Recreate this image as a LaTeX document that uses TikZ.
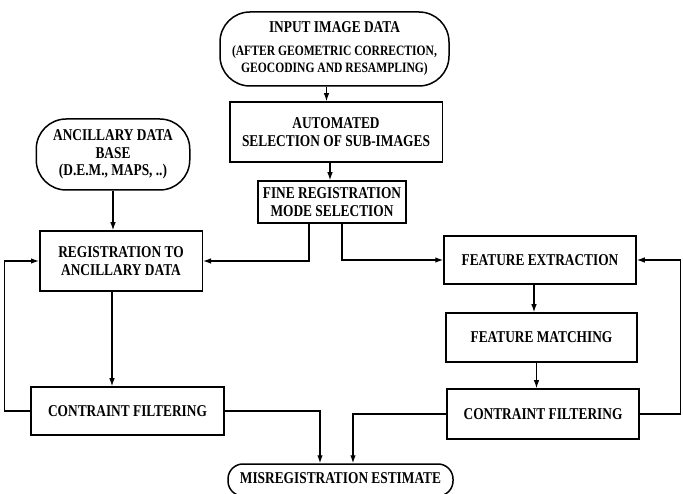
\documentclass[tikz,border=0pt]{standalone}
\usepackage{fontspec}
\setmainfont{Liberation Serif}[FakeStretch=0.81]
\usetikzlibrary{arrows.meta,calc}
\begin{document}
\begin{tikzpicture}[x=1pt,y=-1pt,
  every node/.style={font=\fontsize{16.5}{17.5}\selectfont\bfseries, align=center, inner sep=0pt},
  box/.style={draw, line width=1.5pt, rectangle},
  rbox/.style={draw, line width=1.5pt, rectangle, rounded corners=30pt},
  arr/.style={line width=1.2pt, -{Latex[length=8pt,width=5.5pt]}}]
\useasboundingbox (0,0) rectangle (683,494);
\fill[white] (0,0) rectangle (683,494);

\node[rbox, minimum width=229pt, minimum height=74pt] (input) at (334.5,49)
  {INPUT IMAGE DATA\\[5pt]\fontsize{14.3}{15}\selectfont (AFTER GEOMETRIC CORRECTION,\\ \fontsize{14.3}{15}\selectfont GEOCODING AND RESAMPLING)};
\node[box, minimum width=212.5pt, minimum height=60pt] (auto) at (336,132)
  {AUTOMATED\\SELECTION OF SUB-IMAGES};
\node[box, minimum width=148pt, minimum height=42pt] (fine) at (332,202)
  {FINE REGISTRATION\\MODE SELECTION};
\node[rbox, minimum width=153.5pt, minimum height=71pt] (anc) at (113,154.5)
  {ANCILLARY DATA\\BASE\\(D.E.M., MAPS, ..)};
\node[box, minimum width=162.5pt, minimum height=60pt] (reg) at (121,261)
  {REGISTRATION TO\\ANCILLARY DATA};
\node[box, minimum width=192pt, minimum height=48pt] (fe) at (540,260)
  {FEATURE EXTRACTION};
\node[box, minimum width=191pt, minimum height=49pt] (fm) at (541.5,337.5)
  {FEATURE MATCHING};
\node[box, minimum width=192pt, minimum height=50pt] (cfr) at (543,414)
  {CONTRAINT FILTERING};
\node[box, minimum width=193pt, minimum height=48pt] (cfl) at (127.5,411)
  {CONTRAINT FILTERING};
\node[rbox, rounded corners=15pt, minimum width=225pt, minimum height=32pt] (mis) at (340.5,480)
  {\raisebox{3pt}{MISREGISTRATION ESTIMATE}};

\draw[arr] ([xshift=-8pt]input.south) -- ([xshift=-8pt]input.south |- auto.north);
\draw[arr] ([xshift=-2pt]fine.north |- auto.south) -- ([xshift=-2pt]fine.north);
\draw[arr] (anc.south) -- (anc.south |- reg.north);
\draw[arr] ([xshift=-23pt]fine.south) |- (reg.east);
\draw[arr] ([xshift=10pt]fine.south) |- (fe.west);
\draw[arr] ([xshift=-6pt]fe.south) -- ([xshift=-6pt]fe.south |- fm.north);
\draw[arr] ([xshift=-5pt]fm.south) -- ([xshift=-5pt]fm.south |- cfr.north);
\draw[arr] ([xshift=-9pt]reg.south) -- ([xshift=-9pt]reg.south |- cfl.north);
\coordinate (lfb) at ($(cfl.west)+(-26,0)$);
\draw[arr] (cfl.west) -- (lfb) |- (reg.west);
\coordinate (rfb) at ($(cfr.east)+(41,0)$);
\draw[arr] (cfr.east) -- (rfb) |- (fe.east);
\draw[arr] (cfl.east) -| ([xshift=-20.5pt]mis.north);
\draw[arr] (cfr.west) -| ([xshift=12.5pt]mis.north);
\end{tikzpicture}
\end{document}
